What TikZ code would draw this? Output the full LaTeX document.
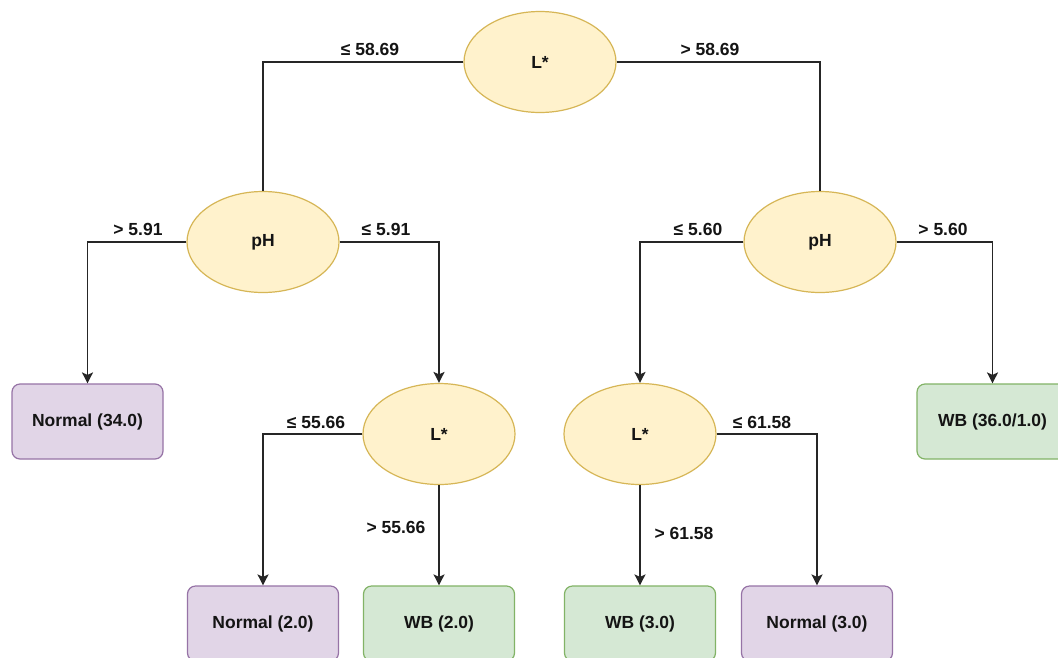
\documentclass[tikz,border=0pt]{standalone}
\usepackage{fontspec}
\setmainfont{Liberation Sans}
\usetikzlibrary{shapes.geometric,arrows.meta}
\definecolor{yfill}{HTML}{FFF2CC}
\definecolor{ydraw}{HTML}{D6B656}
\definecolor{pfill}{HTML}{E1D5E7}
\definecolor{pdraw}{HTML}{9673A6}
\definecolor{gfill}{HTML}{D5E8D4}
\definecolor{gdraw}{HTML}{82B366}
\begin{document}
\begin{tikzpicture}[x=1pt,y=-1pt,
  every node/.style={font=\fontsize{17.5}{20}\selectfont\bfseries, text=black!92},
  test/.style={ellipse, fill=yfill, draw=ydraw, line width=1.2pt, minimum width=152pt, minimum height=101pt, inner sep=0pt},
  leaf/.style={rectangle, rounded corners=8pt, line width=1.2pt, minimum width=151pt, minimum height=75pt, inner sep=0pt},
  leafN/.style={leaf, fill=pfill, draw=pdraw},
  leafW/.style={leaf, fill=gfill, draw=gdraw},
  conn/.style={draw=black!85, line width=1.6pt},
  arr/.style={conn, -{Stealth[length=11pt,width=11pt,inset=2.5pt]}},
  lbl/.style={inner sep=1pt}]
\useasboundingbox (0,0) rectangle (1058,657);
\clip (0,0) rectangle (1058,657);
\fill[white] (0,0) rectangle (1058,657);

\node[test] (L1) at (540,62) {L*};
\node[test] (P1) at (263,242) {pH};
\node[test] (P2) at (820,242) {pH};
\node[test] (L2) at (439,434) {L*};
\node[test] (L3) at (640,434) {L*};

\node[leafN] (N1) at (87.5,421.5) {Normal (34.0)};
\node[leafW] (W1) at (992.5,421.5) {WB (36.0/1.0)};
\node[leafN] (N2) at (263,623.5) {Normal (2.0)};
\node[leafW] (W2) at (439,623.5) {WB (2.0)};
\node[leafW] (W3) at (640,623.5) {WB (3.0)};
\node[leafN] (N3) at (817,623.5) {Normal (3.0)};

\draw[conn] (L1.west) -| (P1.north);
\draw[conn] (L1.east) -| (P2.north);
\draw[arr] (P1.west) -| (N1.north);
\draw[arr] (P1.east) -| (L2.north);
\draw[arr] (P2.west) -| (L3.north);
\draw[arr] (P2.east) -| (W1.north);
\draw[arr] (L2.west) -| (N2.north);
\draw[arr] (L2.south) -- (W2.north);
\draw[arr] (L3.south) -- (W3.north);
\draw[arr] (L3.east) -| (N3.north);

\node[lbl] (c1) at (370,49) {≤ 58.69};
\node[lbl] (c2) at (710,49) {> 58.69};
\node[lbl] (c3) at (138,229) {> 5.91};
\node[lbl] (c4) at (386,229) {≤ 5.91};
\node[lbl] (c5) at (698,229) {≤ 5.60};
\node[lbl] (c6) at (943,229) {> 5.60};
\node[lbl] (c7) at (316,422) {≤ 55.66};
\node[lbl] (c8) at (396,527) {> 55.66};
\node[lbl] (c9) at (762,422) {≤ 61.58};
\node[lbl] (c10) at (684,533) {> 61.58};
\end{tikzpicture}
\end{document}
